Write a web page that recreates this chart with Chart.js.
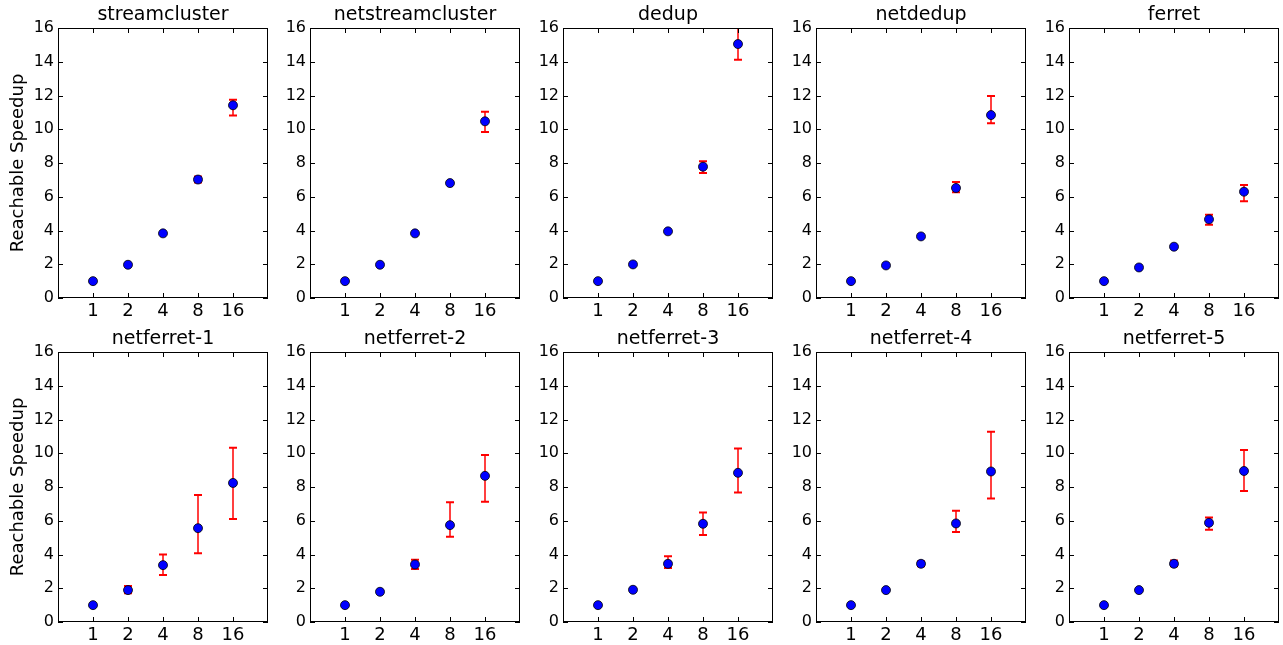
<!DOCTYPE html>
<html>
<head>
<meta charset="utf-8">
<script src="https://cdn.jsdelivr.net/npm/chart.js@4"></script>
<style>
  body { margin: 0; background: #fff; }
  #wrap { position: relative; width: 1283px; height: 645px; overflow: hidden; }
  #wrap canvas { position: absolute; }
</style>
</head>
<body>
<div id="wrap"></div>
<script>
// thread counts on the x axis
const threads = ['1', '2', '4', '8', '16'];
const yTicks = [0, 2, 4, 6, 8, 10, 12, 14, 16];

const benchmarks = ['streamcluster', 'netstreamcluster', 'dedup', 'netdedup', 'ferret',
  'netferret-1', 'netferret-2', 'netferret-3', 'netferret-4', 'netferret-5'];

// mean reachable speedup per thread count
const speedup = [
  [1.0, 1.97, 3.83, 7.02, 11.42],
  [1.0, 1.97, 3.83, 6.81, 10.47],
  [1.0, 1.99, 3.95, 7.78, 15.05],
  [1.0, 1.93, 3.65, 6.52, 10.84],
  [1.0, 1.81, 3.04, 4.66, 6.30],
  [1.0, 1.89, 3.37, 5.56, 8.24],
  [1.0, 1.79, 3.41, 5.74, 8.66],
  [1.0, 1.91, 3.45, 5.82, 8.84],
  [1.0, 1.89, 3.45, 5.84, 8.92],
  [1.0, 1.89, 3.45, 5.88, 8.95]
];

// lower / upper ends of the error bars
const errLow = [
  [1.0, 1.97, 3.83, 6.84, 10.82],
  [1.0, 1.97, 3.83, 6.81, 9.84],
  [1.0, 1.99, 3.95, 7.41, 14.12],
  [1.0, 1.93, 3.65, 6.26, 10.35],
  [1.0, 1.81, 3.04, 4.34, 5.73],
  [1.0, 1.70, 2.78, 4.08, 6.11],
  [1.0, 1.79, 3.14, 5.05, 7.12],
  [1.0, 1.91, 3.20, 5.15, 7.67],
  [1.0, 1.89, 3.30, 5.33, 7.32],
  [1.0, 1.89, 3.30, 5.46, 7.77]
];
const errHigh = [
  [1.0, 1.97, 3.83, 7.20, 11.75],
  [1.0, 1.97, 3.83, 6.81, 11.04],
  [1.0, 1.99, 3.95, 8.10, 16.10],
  [1.0, 1.93, 3.65, 6.87, 11.97],
  [1.0, 1.81, 3.04, 4.94, 6.70],
  [1.0, 2.13, 4.00, 7.53, 10.32],
  [1.0, 1.79, 3.69, 7.10, 9.90],
  [1.0, 1.91, 3.89, 6.49, 10.28],
  [1.0, 1.89, 3.60, 6.59, 11.28],
  [1.0, 1.89, 3.65, 6.19, 10.20]
];

const FONT = "'DejaVu Sans', sans-serif";
const plotLefts = [58, 310, 563, 816, 1069];
const plotTops = [28, 352];
const plotW = 211, plotH = 270;

// red error bars with caps, drawn under the markers
const errorBarPlugin = {
  id: 'errorBars',
  beforeDatasetsDraw(chart, args, opts) {
    const { ctx, chartArea, scales: { x, y } } = chart;
    ctx.save();
    ctx.beginPath();
    ctx.rect(chartArea.left, chartArea.top, chartArea.width, chartArea.height);
    ctx.clip();
    ctx.strokeStyle = '#ff0000';
    opts.low.forEach((lo, i) => {
      const hi = opts.high[i];
      if (hi - lo < 0.01) return;
      const px = x.getPixelForValue(i + 1);
      const yLo = y.getPixelForValue(lo);
      const yHi = y.getPixelForValue(hi);
      ctx.lineWidth = 1.5;
      ctx.beginPath();
      ctx.moveTo(px, yLo);
      ctx.lineTo(px, yHi);
      ctx.stroke();
      ctx.lineWidth = 2;
      ctx.beginPath();
      ctx.moveTo(px - 4, yLo); ctx.lineTo(px + 4, yLo);
      ctx.moveTo(px - 4, yHi); ctx.lineTo(px + 4, yHi);
      ctx.stroke();
    });
    ctx.restore();
  }
};

// black box round the axes with inward ticks on all four sides
const framePlugin = {
  id: 'frame',
  afterDatasetsDraw(chart) {
    const { ctx, chartArea: a, scales: { x, y } } = chart;
    ctx.save();
    ctx.strokeStyle = '#000';
    ctx.lineWidth = 1;
    ctx.strokeRect(a.left + 0.5, a.top + 0.5, a.width - 1, a.height - 1);
    ctx.beginPath();
    yTicks.forEach(v => {
      const py = Math.round(y.getPixelForValue(v)) + 0.5;
      ctx.moveTo(a.left, py); ctx.lineTo(a.left + 5, py);
      ctx.moveTo(a.right, py); ctx.lineTo(a.right - 5, py);
    });
    threads.forEach((t, i) => {
      const px = Math.round(x.getPixelForValue(i + 1)) + 0.5;
      ctx.moveTo(px, a.top); ctx.lineTo(px, a.top + 5);
      ctx.moveTo(px, a.bottom); ctx.lineTo(px, a.bottom - 5);
    });
    ctx.stroke();
    ctx.restore();
  }
};

function makeChart(i) {
  const row = Math.floor(i / 5), col = i % 5;
  const axisW = col === 0 ? 58 : 45;
  const titleH = 28, xAxisH = 24, padRight = 2;
  const canvas = document.createElement('canvas');
  const w = axisW + plotW + padRight;
  const h = titleH + plotH + xAxisH;
  canvas.width = w;
  canvas.height = h;
  canvas.style.width = w + 'px';
  canvas.style.height = h + 'px';
  canvas.style.left = (plotLefts[col] - axisW) + 'px';
  canvas.style.top = (plotTops[row] - titleH) + 'px';
  document.getElementById('wrap').appendChild(canvas);

  new Chart(canvas.getContext('2d'), {
    type: 'scatter',
    data: {
      datasets: [{
        data: speedup[i].map((v, k) => ({ x: k + 1, y: v })),
        backgroundColor: '#0000ff',
        borderColor: '#000000',
        borderWidth: 0.8,
        pointRadius: 4.5,
        pointHoverRadius: 4.5
      }]
    },
    options: {
      responsive: false,
      animation: false,
      events: [],
      layout: { padding: { right: padRight }, autoPadding: false },
      scales: {
        x: {
          type: 'linear',
          min: 0,
          max: 6,
          afterFit: s => { s.height = xAxisH; },
          grid: { display: false, drawTicks: false },
          border: { display: false },
          ticks: {
            stepSize: 1,
            autoSkip: false,
            maxRotation: 0,
            padding: 3,
            color: '#000',
            font: { family: FONT, size: 18 },
            callback: v => threads[v - 1] || ''
          }
        },
        y: {
          min: 0,
          max: 16,
          afterFit: s => { s.width = axisW; },
          grid: { display: false, drawTicks: false },
          border: { display: false },
          ticks: {
            stepSize: 2,
            padding: 4,
            color: '#000',
            font: { family: FONT, size: 16 }
          },
          title: {
            display: col === 0,
            text: 'Reachable Speedup',
            color: '#000',
            font: { family: FONT, size: 18 },
            padding: { top: 8, bottom: 0 }
          }
        }
      },
      plugins: {
        legend: { display: false },
        tooltip: { enabled: false },
        title: {
          display: true,
          fullSize: false,
          text: benchmarks[i],
          color: '#000',
          font: { family: FONT, size: 19, weight: 'normal' },
          padding: { top: 4, bottom: 1.2 }
        },
        errorBars: { low: errLow[i], high: errHigh[i] }
      }
    },
    plugins: [errorBarPlugin, framePlugin]
  });
}

benchmarks.forEach((b, i) => makeChart(i));
</script>
</body>
</html>
